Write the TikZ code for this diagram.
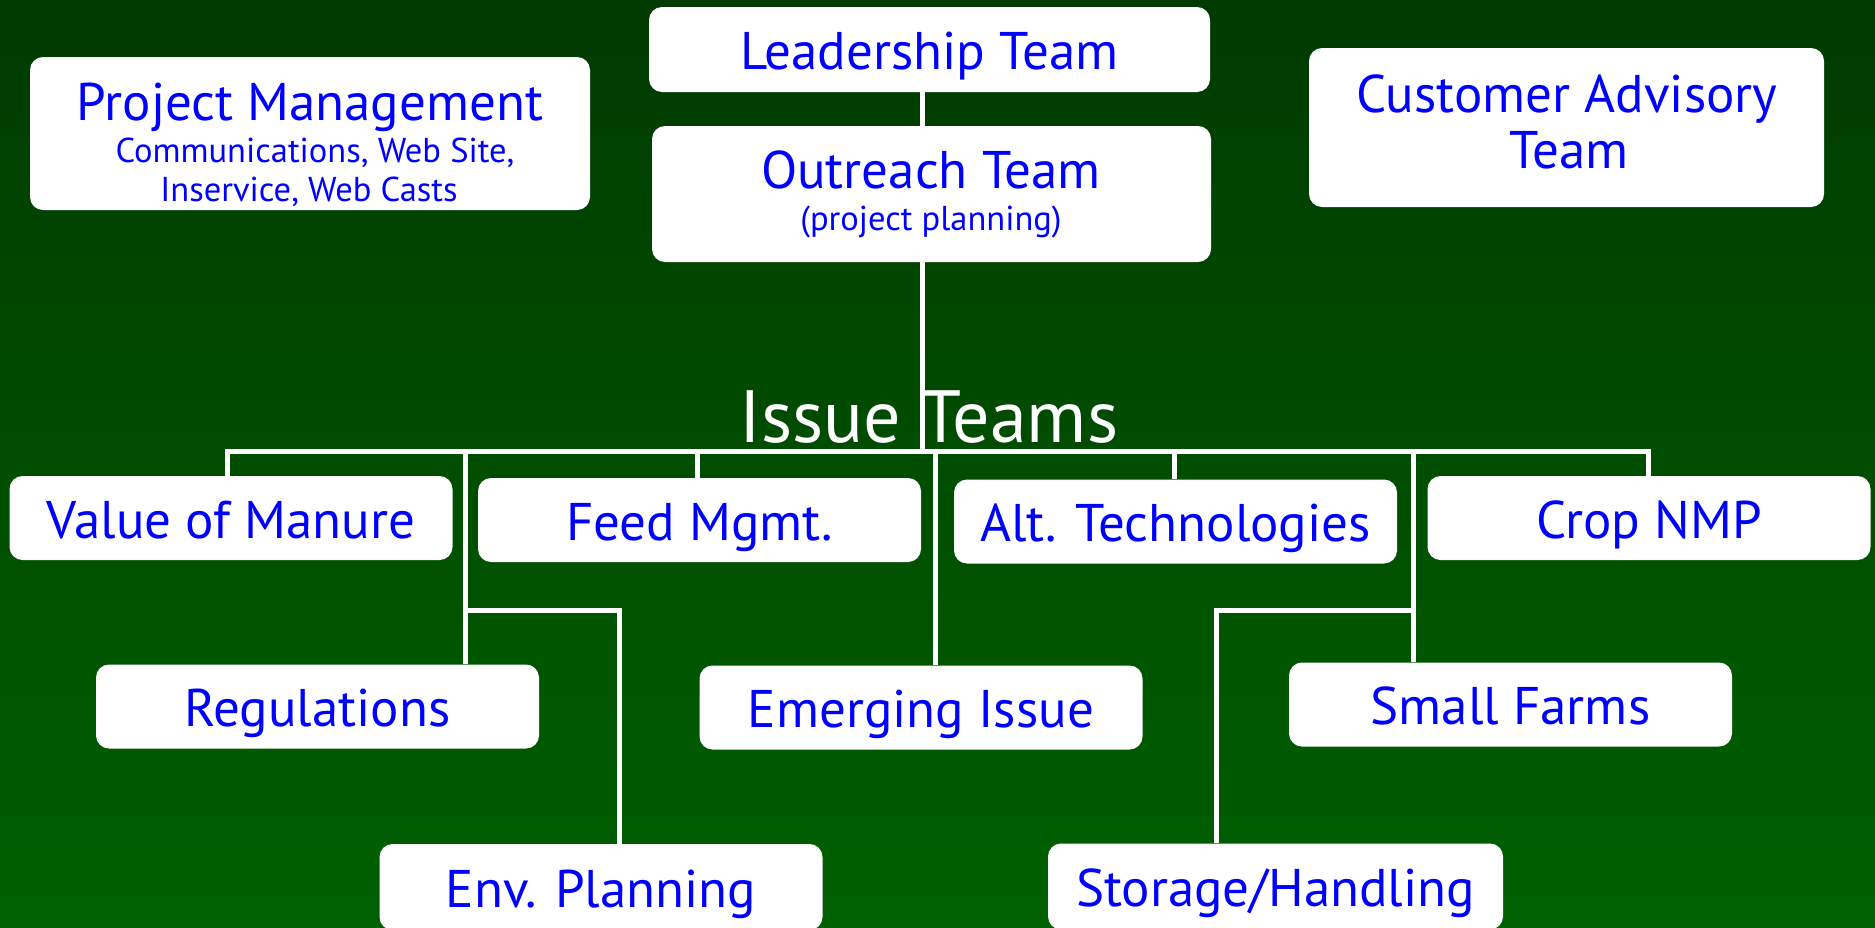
\documentclass[tikz,border=0pt]{standalone}
\usepackage{fontspec}
\setmainfont{PT Sans}
\definecolor{bgtop}{HTML}{003A00}
\definecolor{bgbot}{HTML}{006000}
\definecolor{txtblue}{HTML}{0000FF}
\tikzset{
  box/.style={fill=white, rounded corners=13pt, text=txtblue, inner sep=0pt, align=center,
              font=\fontsize{53}{60}\selectfont, text height=44pt, text depth=4pt},
  teambox/.style={box, minimum width=443pt, minimum height=84pt},
  lbl/.style={text=txtblue, inner sep=0pt, anchor=base, font=\fontsize{53}{60}\selectfont},
  sublbl/.style={lbl, font=\fontsize{34.5}{40}\selectfont},
  wire/.style={draw=white, line width=5pt},
}
\begin{document}
\begin{tikzpicture}[x=1pt,y=-1pt]
\useasboundingbox (0,0) rectangle (1875,927);
\shade[top color=bgtop, bottom color=bgbot] (0,0) rectangle (1875,927);

% spine coordinates
\coordinate (sp) at (922,0);
\coordinate (busL) at (227,451);
\coordinate (busR) at (1648,451);
\coordinate (brL) at (619,610);
\coordinate (brR) at (1216,610);

% top boxes
\node[box, minimum width=561pt, minimum height=85pt] (lead) at (929.5,49.5) {Leadership Team};
\node[box, minimum width=559pt, minimum height=136pt] (out) at (931.5,194) {};
\node[lbl] (outT) at (931,188) {Outreach Team};
\node[sublbl] (outS) at (931,230) {(project planning)};
\node[box, minimum width=560pt, minimum height=153pt] (pm) at (310,133.5) {};
\node[lbl] (pmT) at (310,120) {Project Management};
\node[sublbl] (pmA) at (315,162) {Communications, Web Site,};
\node[sublbl] (pmB) at (309,201) {Inservice, Web Casts};
\node[box, minimum width=515pt, minimum height=159pt] (cust) at (1566.5,127.5) {};
\node[lbl] (cuA) at (1567,112) {Customer Advisory};
\node[lbl] (cuB) at (1569,168) {Team};

% issue teams
\node[teambox] (vm)   at (231,518)    {Value of Manure};
\node[teambox] (fm)   at (699.5,520)  {Feed Mgmt.};
\node[teambox] (alt)  at (1175.5,521.5) {Alt. Technologies};
\node[teambox] (crop) at (1649,518)   {Crop NMP};
\node[teambox] (reg)  at (317.5,706.5) {Regulations};
\node[teambox] (emg)  at (921,707.5)  {Emerging Issue};
\node[teambox] (sf)   at (1510.5,704.5) {Small Farms};
\node[teambox, minimum height=86pt] (env) at (601,887) {Env. Planning};
\node[teambox, minimum width=455pt, minimum height=86pt] (sto) at (1275.5,886.5) {Storage/Handling};

% connectors
\draw[wire] (lead.south -| sp) -- (out.north -| sp);
\draw[wire] (out.south -| sp) -- (busL -| sp);
\draw[wire, line cap=rect] (busL) -- (busR);
\draw[wire] (busL) -- (vm.north -| busL);
\draw[wire] (busR) -- (crop.north -| busR);
\coordinate (dreg) at (465,451);
\coordinate (dfm)  at (697,451);
\coordinate (demg) at (935,451);
\coordinate (dalt) at (1174,451);
\coordinate (dsf)  at (1413,451);
\draw[wire] (dreg) -- (reg.north -| dreg);
\draw[wire] (dfm) -- (fm.north -| dfm);
\draw[wire] (demg) -- (emg.north -| demg);
\draw[wire] (dalt) -- (alt.north -| dalt);
\draw[wire] (dsf) -- (sf.north -| dsf);
\draw[wire] (dreg |- brL) -- (brL) -- (env.north -| brL);
\draw[wire] (dsf |- brR) -- (brR) -- (sto.north -| brR);

% label
\node[text=white, font=\fontsize{74}{80}\selectfont, inner sep=0pt, anchor=base] (issue) at (929,442) {Issue Teams};
\end{tikzpicture}
\end{document}
